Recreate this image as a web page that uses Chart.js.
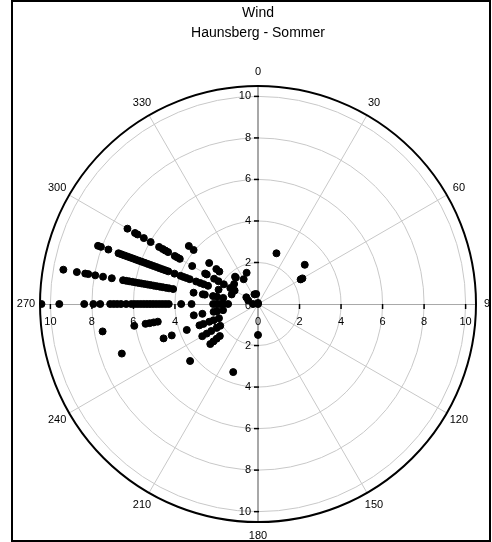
<!DOCTYPE html>
<html>
<head>
<meta charset="utf-8">
<script src="https://cdn.jsdelivr.net/npm/chart.js@4"></script>
<style>
html,body{margin:0;padding:0;background:#fff}
#wrap{width:492px;height:542px;position:relative}
</style>
</head>
<body>
<div id="wrap"><canvas id="c"></canvas></div>
<script>
// ---- data (wind direction in degrees, wind speed) ----
const titleLines = ['Wind', 'Haunsberg - Sommer'];
const angleLabels = [0, 30, 60, 90, 120, 150, 180, 210, 240, 270, 300, 330];
const radialTicks = [0, 2, 4, 6, 8, 10];
const maxSpeed = 10.5;

const speeds000 = [0, 0.05];
const speeds020 = [2.6];
const speeds050 = [2.94];
const speeds060 = [2.37, 2.47];
const speeds180 = [1.49];
const speeds200 = [3.49];
const speeds230 = [4.27, 3.0, 2.8, 2.6, 2.4];
const speeds240 = [3.1, 2.85, 2.6, 2.3, 2.1];
const speeds250 = [6.98, 4.84, 4.42, 3.65, 3.0, 2.8, 2.5, 2.28, 2.0];
const speeds260 = [7.6, 6.05, 5.5, 5.3, 5.1, 4.9, 3.14, 2.72, 2.17, 2.0, 1.71];
const speeds270 = [10.43, 9.57, 8.37, 7.93, 7.6, 7.12, 6.95, 6.78, 6.6, 6.35, 6.1, 5.95, 5.8,
  5.65, 5.5, 5.35, 5.2, 5.05, 4.9, 4.75, 4.6, 4.45, 4.3, 3.7, 3.2, 2.16, 2.05, 1.92, 1.8, 1.68, 1.44, 0.24];
const speeds280 = [9.52, 8.86, 8.45, 8.3, 7.96, 7.58, 7.15, 6.6, 6.45, 6.3, 6.15, 6.0, 5.85,
  5.7, 5.55, 5.4, 5.25, 5.1, 4.95, 4.8, 4.65, 4.5, 4.35, 4.15, 3.15, 2.7, 2.6, 2.2, 2.0, 1.7];
const speeds290 = [8.2, 8.05, 7.67, 7.15, 7.0, 6.85, 6.7, 6.55, 6.4, 6.25, 6.1, 5.95, 5.8,
  5.65, 5.5, 5.35, 5.2, 5.05, 4.9, 4.75, 4.6, 4.28, 3.97, 3.82, 3.67, 3.5, 3.17, 2.96, 2.78, 2.56, 2.02, 1.35, 0.5];
const speeds300 = [7.26, 6.84, 6.7, 6.35, 5.97, 5.5, 5.3, 5.15, 5.0, 4.63, 4.5, 4.35, 3.66,
  2.94, 2.85, 2.44, 2.2, 1.9, 1.54, 1.3, 0.65];
const speeds310 = [4.35, 4.05, 3.07, 2.62, 2.43, 1.5];
const speeds320 = [1.72, 1.66];
const speeds330 = [1.38];
const speeds340 = [1.6, 0.5];
const speeds350 = [0.49];

const directionGroups = [
  [0, speeds000], [20, speeds020], [50, speeds050], [60, speeds060], [180, speeds180],
  [200, speeds200], [230, speeds230], [240, speeds240], [250, speeds250], [260, speeds260],
  [270, speeds270], [280, speeds280], [290, speeds290], [300, speeds300], [310, speeds310],
  [320, speeds320], [330, speeds330], [340, speeds340], [350, speeds350]
];

const points = [];
directionGroups.forEach(([dir, list]) => {
  const a = dir * Math.PI / 180;
  list.forEach(s => points.push({ x: s * Math.sin(a), y: s * Math.cos(a) }));
});

const FONT = "'Liberation Sans', Arial, sans-serif";

const polarGrid = {
  id: 'polarGrid',
  beforeDatasetsDraw(chart) {
    const { ctx, scales: { x: xs, y: ys } } = chart;
    const cx = xs.getPixelForValue(0), cy = ys.getPixelForValue(0);
    const unit = xs.getPixelForValue(1) - cx;
    const R = maxSpeed * unit;
    ctx.save();
    // rings
    ctx.strokeStyle = '#c8c8c8';
    ctx.lineWidth = 1;
    radialTicks.forEach(t => {
      if (t === 0) return;
      ctx.beginPath(); ctx.arc(cx, cy, t * unit, 0, Math.PI * 2); ctx.stroke();
    });
    // spokes
    angleLabels.forEach(d => {
      if (d % 90 === 0) return;
      const a = d * Math.PI / 180;
      ctx.beginPath(); ctx.moveTo(cx, cy);
      ctx.lineTo(cx + R * Math.sin(a), cy - R * Math.cos(a)); ctx.stroke();
    });
    // main axes
    ctx.strokeStyle = '#a8a8a8';
    ctx.lineWidth = 2;
    ctx.beginPath(); ctx.moveTo(cx, cy - R); ctx.lineTo(cx, cy + R); ctx.stroke();
    ctx.lineWidth = 1;
    ctx.beginPath(); ctx.moveTo(cx - R, cy + 0.5); ctx.lineTo(cx + R, cy + 0.5); ctx.stroke();
    // outer circle
    ctx.strokeStyle = '#000';
    ctx.lineWidth = 2;
    ctx.beginPath(); ctx.arc(cx, cy, R, 0, Math.PI * 2); ctx.stroke();
    // tick marks
    ctx.lineWidth = 1.5;
    radialTicks.forEach(t => {
      if (t === 0) return;
      [1, -1].forEach(sg => {
        const p = t * unit * sg;
        ctx.beginPath(); ctx.moveTo(cx - 4, cy + p); ctx.lineTo(cx + 1, cy + p); ctx.stroke();
        ctx.beginPath(); ctx.moveTo(cx + p, cy); ctx.lineTo(cx + p, cy + 5); ctx.stroke();
      });
    });
    // tick labels
    ctx.fillStyle = '#000';
    ctx.font = '11px ' + FONT;
    ctx.textBaseline = 'middle';
    radialTicks.forEach(t => {
      const sides = t === 0 ? [1] : [1, -1];
      sides.forEach(sg => {
        const p = t * unit * sg;
        ctx.textAlign = 'right';
        ctx.fillText(String(t), cx - 7, cy + p + (t === 0 ? 2 : 0));
        ctx.textAlign = 'center';
        ctx.fillText(String(t), cx + p, cy + 18);
      });
    });
    // angle labels (clipped by frame)
    ctx.save();
    ctx.beginPath(); ctx.rect(12, 1, 478, 540); ctx.clip();
    ctx.textAlign = 'center';
    angleLabels.forEach(d => {
      const a = d * Math.PI / 180;
      const rl = R + 14;
      ctx.fillText(String(d), cx + rl * Math.sin(a), cy - rl * Math.cos(a));
    });
    ctx.restore();
    // frame
    ctx.strokeStyle = '#000';
    ctx.lineWidth = 2;
    ctx.strokeRect(12, 1, 478, 540);
    ctx.restore();
  }
};

new Chart(document.getElementById('c'), {
  type: 'scatter',
  data: {
    datasets: [{
      label: 'Wind',
      data: points,
      backgroundColor: '#000',
      borderColor: '#000',
      borderWidth: 1,
      pointRadius: 3.5,
      pointHoverRadius: 3.5
    }]
  },
  options: {
    responsive: true,
    maintainAspectRatio: false,
    animation: false,
    layout: { padding: { top: 0, left: 40, right: 16, bottom: 20 } },
    scales: {
      x: { type: 'linear', min: -maxSpeed, max: maxSpeed, display: false },
      y: { type: 'linear', min: -maxSpeed, max: maxSpeed, display: false }
    },
    plugins: {
      legend: { display: false },
      tooltip: { enabled: false },
      title: {
        display: true,
        text: titleLines,
        color: '#000',
        font: { family: FONT, size: 14, weight: 'normal', lineHeight: 1.43 },
        padding: { top: 3, bottom: 43 }
      }
    }
  },
  plugins: [polarGrid]
});
</script>
</body>
</html>
